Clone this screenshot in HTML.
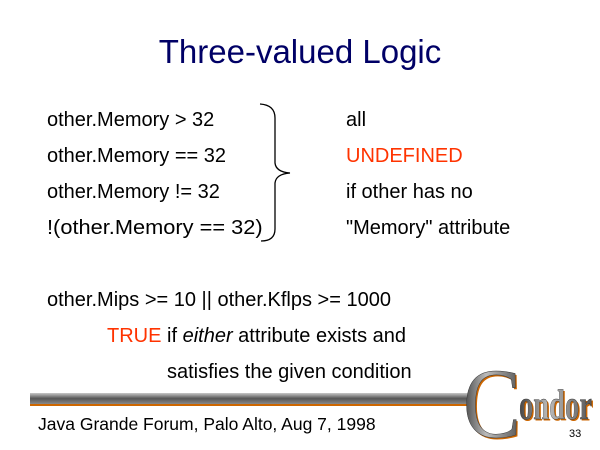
<!DOCTYPE html>
<html><head><meta charset="utf-8"><style>
body{margin:0;width:600px;height:450px;background:#fff;position:relative;overflow:hidden;font-family:"Liberation Sans",Arial,sans-serif;}
.t{position:absolute;font-size:20px;color:#000;white-space:nowrap;line-height:22px;transform-origin:left center;}
.r{color:#ff3300;}
</style></head><body>
<div class="t" style="left:0;width:600px;text-align:center;top:33px;font-size:33px;line-height:38px;color:#000066;">Three-valued Logic</div>
<div class="t" style="left:47px;top:109px;">other.Memory &gt; 32</div>
<div class="t" style="left:47px;top:145px;">other.Memory == 32</div>
<div class="t" style="left:47px;top:181px;">other.Memory != 32</div>
<div class="t" style="left:47px;top:217px;transform:scaleX(1.09);">!(other.Memory == 32)</div>
<div class="t" style="left:346px;top:109px;">all</div>
<div class="t r" style="left:346px;top:145px;">UNDEFINED</div>
<div class="t" style="left:346px;top:181px;">if other has no</div>
<div class="t" style="left:346px;top:217px;">"Memory" attribute</div>
<svg style="position:absolute;left:0;top:0" width="600" height="450">
<path d="M260,104 Q275,105 275,118 L275,163 Q276,172 290,173 Q276,174 275,183 L275,229 Q275,241 261,241" fill="none" stroke="#000" stroke-width="1.3"/>
<defs><linearGradient id="g" x1="0" y1="0" x2="0" y2="1"><stop offset="0" stop-color="#c8c8c8"/><stop offset="0.5" stop-color="#555"/><stop offset="1" stop-color="#888"/></linearGradient>
<linearGradient id="c" x1="0" y1="0" x2="1" y2="0"><stop offset="0" stop-color="#444"/><stop offset="0.4" stop-color="#bbb"/><stop offset="1" stop-color="#555"/></linearGradient></defs>
<rect x="30" y="393" width="445" height="11" fill="url(#g)"/>
<rect x="30" y="404" width="445" height="2" fill="#cc6600"/>
<text x="463" y="437" font-family="Liberation Serif,serif" font-size="100" fill="#cc6600" transform="translate(1.5,1.5)" textLength="58" lengthAdjust="spacingAndGlyphs">C</text>
<text x="463" y="437" font-family="Liberation Serif,serif" font-size="100" fill="url(#c)" stroke="#333" stroke-width="0.5" textLength="58" lengthAdjust="spacingAndGlyphs">C</text>
<text x="519" y="419" font-family="Liberation Serif,serif" font-weight="bold" font-size="42" fill="#cc6600" transform="translate(1.5,1.5)" textLength="73" lengthAdjust="spacingAndGlyphs">ondor</text>
<text x="519" y="419" font-family="Liberation Serif,serif" font-weight="bold" font-size="42" fill="url(#c)" stroke="#333" stroke-width="0.4" textLength="73" lengthAdjust="spacingAndGlyphs">ondor</text>
</svg>
<div class="t" style="left:47px;top:289px;">other.Mips &gt;= 10 || other.Kflps &gt;= 1000</div>
<div class="t" style="left:107px;top:325px;"><span class="r">TRUE</span> if <i>either</i> attribute exists and</div>
<div class="t" style="left:167px;top:361px;">satisfies the given condition</div>
<div class="t" style="left:38px;top:413px;font-size:17.5px;">Java Grande Forum, Palo Alto, Aug 7, 1998</div>
<div class="t" style="left:569px;top:423px;font-size:11px;">33</div>
</body></html>
